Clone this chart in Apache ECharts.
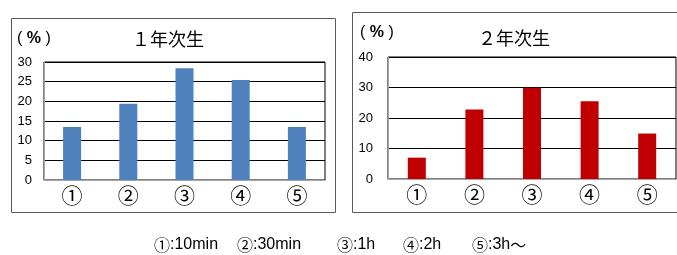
<!DOCTYPE html>
<html>
<head>
<meta charset="utf-8">
<script src="https://cdn.jsdelivr.net/npm/echarts@6/dist/echarts.min.js"></script>
<style>
  html, body { margin: 0; padding: 0; background: #fff; }
  #main { width: 677px; height: 255px; }
</style>
</head>
<body>
<div id="main"></div>
<script>
// categories and values
var categories = ['①', '②', '③', '④', '⑤'];
var year1 = [13.5, 19.4, 28.4, 25.4, 13.5];
var year2 = [7.0, 22.8, 29.9, 25.5, 14.9];
var titles = ['１年次生', '２年次生'];
var noteMarks = ['①', '②', '③', '④', '⑤'];
var noteTimes = ['10min', '30min', '1h', '2h', '3h'];

var jp = '"Noto Sans CJK JP", sans-serif';
var num = '"Liberation Sans", Arial, sans-serif';

var chart = echarts.init(document.getElementById('main'));

function yAxis(idx, max, interval, margin) {
  return {
    type: 'value',
    gridIndex: idx,
    min: 0,
    max: max,
    interval: interval,
    axisLine: { show: true, lineStyle: { color: '#a6a6a6' } },
    axisTick: { show: false },
    axisLabel: { color: '#000', fontSize: 13, fontFamily: num, margin: margin },
    splitLine: { show: true, lineStyle: { color: '#000', width: 1 } }
  };
}

function xAxis(idx) {
  return {
    type: 'category',
    gridIndex: idx,
    data: categories,
    axisLine: { show: true, lineStyle: { color: '#a6a6a6' } },
    axisTick: { show: false },
    axisLabel: { color: '#000', fontSize: 21, fontFamily: jp, margin: 5 }
  };
}

function pctLabel(x, y) {
  return {
    type: 'text', left: x, top: y,
    style: {
      text: '( {b|%} )',
      fontSize: 16, fontFamily: num, fill: '#000',
      rich: { b: { fontSize: 16, fontWeight: 'bold', fontFamily: num } }
    }
  };
}

// footnote: one text per item
var noteLeft = [154, 237, 337, 403, 472];
var notes = noteMarks.map(function (m, i) {
  var tail = i === noteMarks.length - 1 ? '{c|～}' : '';
  return {
    type: 'text', left: noteLeft[i], top: 237,
    style: {
      text: '{c|' + m + '}:' + noteTimes[i] + tail,
      fontSize: 16, fontFamily: num, fill: '#000',
      rich: { c: { fontSize: 16, fontFamily: jp } }
    }
  };
});

chart.setOption({
  animation: false,
  backgroundColor: '#fff',
  title: [
    { text: titles[0], left: 163, top: 25, textAlign: 'center',
      textStyle: { fontSize: 18, fontWeight: 'normal', color: '#000', fontFamily: jp } },
    { text: titles[1], left: 509, top: 24, textAlign: 'center',
      textStyle: { fontSize: 18, fontWeight: 'normal', color: '#000', fontFamily: jp } }
  ],
  grid: [
    { left: 44, top: 62, width: 281, height: 118, show: true, borderColor: '#000', borderWidth: 1 },
    { left: 388, top: 57, width: 288, height: 122, show: true, borderColor: '#000', borderWidth: 1 }
  ],
  xAxis: [xAxis(0), xAxis(1)],
  yAxis: [yAxis(0, 30, 5, 12), yAxis(1, 40, 10, 15)],
  series: [
    { type: 'bar', xAxisIndex: 0, yAxisIndex: 0, data: year1, barWidth: 18,
      itemStyle: { color: '#4f81bd' } },
    { type: 'bar', xAxisIndex: 1, yAxisIndex: 1, data: year2, barWidth: 18,
      itemStyle: { color: '#c00000' } }
  ],
  graphic: [
    { type: 'rect', shape: { x: 11.5, y: 18.5, width: 324, height: 194 },
      style: { fill: null, stroke: '#595959', lineWidth: 1 }, z: -10 },
    { type: 'rect', shape: { x: 352.5, y: 12.5, width: 330, height: 200 },
      style: { fill: null, stroke: '#595959', lineWidth: 1 }, z: -10 },
    pctLabel(17, 31),
    pctLabel(360, 25)
  ].concat(notes)
});
</script>
</body>
</html>
